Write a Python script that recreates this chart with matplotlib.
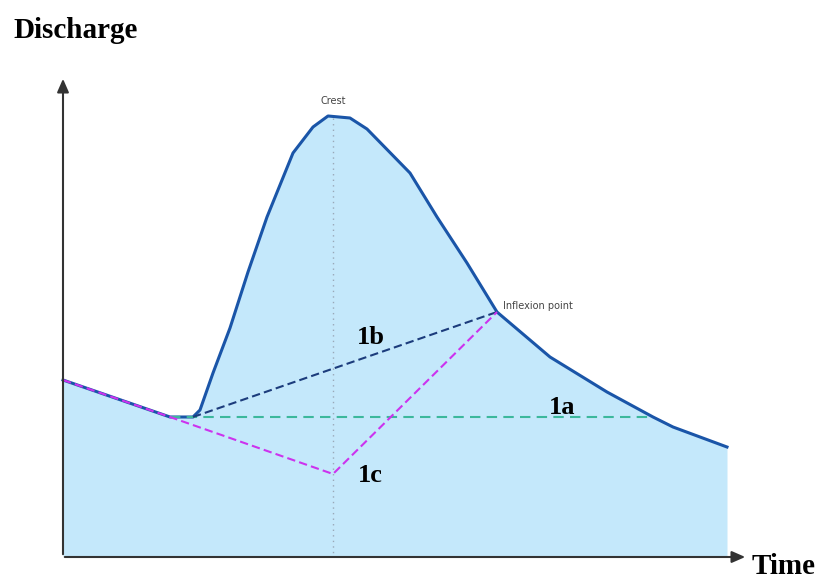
"""Hydrograph baseflow separation sketch."""

import matplotlib.pyplot as plt

# hydrograph, in picture units (x to the right, y downwards)
hydro_x = [63, 170, 193, 200, 213, 230, 248, 267, 293, 313, 328, 350, 367, 410, 437,
           467, 497, 550, 607, 653, 673, 727]
hydro_y = [380, 417, 417, 410, 373, 328, 272, 217, 153, 127, 116, 118, 129, 173, 217,
           263, 312, 357, 392, 417, 427, 447]
base_y = 556

crest = (333, 116)
inflexion = (497, 312)
rise_start = (193, 417)
valley = (170, 417)
recession_hit = (653, 417)
low_1c = (333, 474)

FILL = "#c4e8fb"
LINE = "#1a55a8"

fig = plt.figure(figsize=(8.3, 5.83), dpi=100)
ax = fig.add_axes([0, 0, 1, 1])
ax.set_xlim(0, 830)
ax.set_ylim(583, 0)
ax.axis("off")

ax.fill_between(hydro_x, hydro_y, base_y, color=FILL, linewidth=0)
ax.plot(hydro_x, hydro_y, color=LINE, lw=2.2, solid_joinstyle="round")

# crest vertical
ax.plot([crest[0], crest[0]], [crest[1] + 2, base_y], color="#9aa8b8", lw=1, ls=(0, (1, 3)))

# separation lines
ax.plot([valley[0], recession_hit[0]], [valley[1], recession_hit[1]],
        color="#3cb89c", lw=1.5, ls=(0, (5, 3)))
ax.plot([rise_start[0], inflexion[0]], [rise_start[1], inflexion[1]],
        color="#1c3c7c", lw=1.5, ls=(0, (4, 2)))
ax.plot([hydro_x[0], valley[0], low_1c[0], inflexion[0]],
        [hydro_y[0], valley[1], low_1c[1], inflexion[1]],
        color="#cc33ee", lw=1.5, ls=(0, (4, 2)))

# axes arrows
ax.annotate("", xy=(63, 76), xytext=(63, 557),
            arrowprops=dict(arrowstyle="-|>,head_length=0.8,head_width=0.35", color="#333333", lw=1.5))
ax.annotate("", xy=(748, 557), xytext=(62, 557),
            arrowprops=dict(arrowstyle="-|>,head_length=0.8,head_width=0.35", color="#333333", lw=1.5))

serif = ["Liberation Serif", "DejaVu Serif"]
ax.text(13, 30, "Discharge", fontsize=21, fontweight="bold", family=serif, va="center", ha="left")
ax.text(752, 566, "Time", fontsize=21, fontweight="bold", family=serif, va="center", ha="left")
ax.text(357, 337, "1b", fontsize=19, fontweight="bold", family=serif, va="center", ha="left")
ax.text(549, 407, "1a", fontsize=19, fontweight="bold", family=serif, va="center", ha="left")
ax.text(358, 475, "1c", fontsize=19, fontweight="bold", family=serif, va="center", ha="left")
ax.text(crest[0], 101, "Crest", fontsize=7, color="#444444", ha="center", va="center")
ax.text(503, 306, "Inflexion point", fontsize=7, color="#444444", ha="left", va="center")

fig.savefig("out.png", dpi=100)
